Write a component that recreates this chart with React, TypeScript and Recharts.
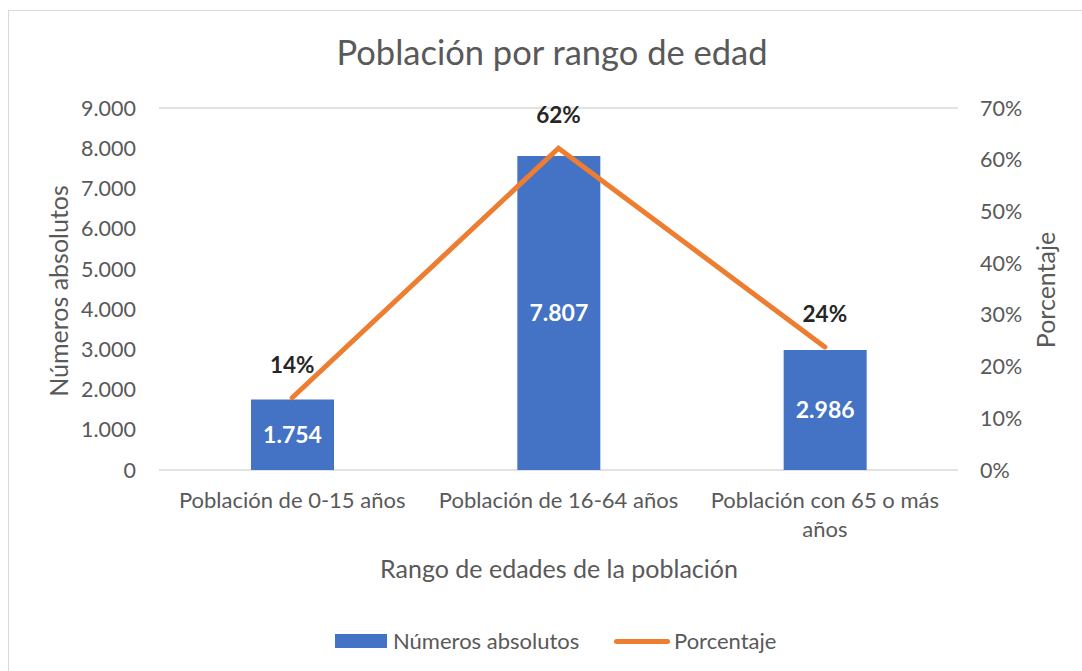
import React from 'react';
import { ComposedChart, Bar, Line, XAxis, YAxis, CartesianGrid, LabelList } from 'recharts';

const categories = ['Población de 0-15 años', 'Población de 16-64 años', 'Población con 65 o más años'];
const absolutos = [1754, 7807, 2986];
const porcentaje = [0.1398, 0.6222, 0.238];
const leftTicks = [0, 1000, 2000, 3000, 4000, 5000, 6000, 7000, 8000, 9000];
const rightTicks = [0, 0.1, 0.2, 0.3, 0.4, 0.5, 0.6, 0.7];

const title = 'Población por rango de edad';
const xTitle = 'Rango de edades de la población';
const leftTitle = 'Números absolutos';
const rightTitle = 'Porcentaje';

const data = categories.map((c, i) => ({ name: c, abs: absolutos[i], pct: porcentaje[i] }));

const FONT = 'Lato, "Open Sans", sans-serif';
const GREY = '#595959';
const BLUE = '#4472C4';
const ORANGE = '#ED7D31';

const fmtThousands = (v: number) => {
  const s = Math.round(v).toString();
  return s.replace(/\B(?=(\d{3})+(?!\d))/g, '.');
};
const fmtPct = (v: number) => `${Math.round(v * 100)}%`;

let ctx: CanvasRenderingContext2D | null = null;
const measure = (s: string, font: string) => {
  if (!ctx) {
    const c = document.createElement('canvas');
    ctx = c.getContext('2d');
  }
  if (!ctx) return s.length * 11;
  ctx.font = font;
  return ctx.measureText(s).width;
};

const wrapWords = (s: string, maxW: number, font: string) => {
  const words = s.split(' ');
  const lines: string[] = [];
  let cur = '';
  for (const w of words) {
    const test = cur ? cur + ' ' + w : w;
    if (cur && measure(test, font) > maxW) {
      lines.push(cur);
      cur = w;
    } else {
      cur = test;
    }
  }
  if (cur) lines.push(cur);
  return lines;
};

const CatTick = (props: any) => {
  const { x, y, payload } = props;
  const lines = wrapWords(String(payload.value), 245, '22px Lato');
  return (
    <text x={x} y={y} textAnchor="middle" fill={GREY} fontSize={22} fontFamily={FONT}>
      {lines.map((l, i) => (
        <tspan key={i} x={x} dy={i === 0 ? 16 : 29}>{l}</tspan>
      ))}
    </text>
  );
};

const PctLabel = (props: any) => {
  const { x, y, value } = props;
  return (
    <text x={x} y={y - 25} textAnchor="middle" fill="#262626" fontSize={22.5} fontWeight="bold" fontFamily={FONT}>
      {fmtPct(value)}
    </text>
  );
};

export default function App() {
  return (
    <div style={{ position: 'absolute', left: 0, top: 0, width: 1082, height: 671, overflow: 'hidden', background: '#fff', fontFamily: FONT }}>
      <div style={{ position: 'absolute', left: 8, top: 10, width: 1100, height: 720, border: '1px solid #D9D9D9', boxSizing: 'border-box' }} />
      <div style={{ position: 'absolute', left: 552, top: 30, transform: 'translateX(-50%)', whiteSpace: 'nowrap', fontSize: 34.5, color: GREY, lineHeight: '44px' }}>
        {title}
      </div>
      <ComposedChart
        width={1082}
        height={671}
        data={data}
        margin={{ top: 108, right: 0, bottom: 81, left: 0 }}
        style={{ position: 'absolute', left: 0, top: 0 }}
      >
        <CartesianGrid vertical={false} stroke="#D9D9D9" strokeWidth={1.5} />
        <XAxis
          dataKey="name"
          xAxisId={0}
          height={120}
          axisLine={false}
          tickLine={false}
          interval={0}
          tick={<CatTick />}
          tickMargin={16}
          label={(p: any) => (
            <text x={559} y={578} textAnchor="middle" fill={GREY} fontSize={25} fontFamily={FONT}>{xTitle}</text>
          )}
        />
        <YAxis
          yAxisId="left"
          orientation="left"
          width={159}
          domain={[0, 9000]}
          ticks={leftTicks}
          tickFormatter={fmtThousands}
          axisLine={false}
          tickLine={false}
          tickMargin={17}
          tick={{ fill: GREY, fontSize: 21.5, fontFamily: FONT }}
          label={(p: any) => (
            <text x={0} y={0} transform="translate(68,291) rotate(-90)" textAnchor="middle" fill={GREY} fontSize={25} fontFamily={FONT}>{leftTitle}</text>
          )}
        />
        <YAxis
          yAxisId="right"
          orientation="right"
          width={124}
          domain={[0, 0.7]}
          ticks={rightTicks}
          tickFormatter={fmtPct}
          axisLine={false}
          tickLine={false}
          tickMargin={16}
          tick={{ fill: GREY, fontSize: 21.5, fontFamily: FONT }}
          label={(p: any) => (
            <text x={0} y={0} transform="translate(1055,290) rotate(-90)" textAnchor="middle" fill={GREY} fontSize={25} fontFamily={FONT}>{rightTitle}</text>
          )}
        />
        <Bar yAxisId="left" dataKey="abs" fill={BLUE} barSize={83} isAnimationActive={false}>
          <LabelList dataKey="abs" position="center" formatter={(v: any) => fmtThousands(Number(v))} fill="#FFFFFF" fontSize={23} fontWeight="bold" fontFamily={FONT} />
        </Bar>
        <Line yAxisId="right" dataKey="pct" type="linear" stroke={ORANGE} strokeWidth={5} dot={false} activeDot={false} isAnimationActive={false} strokeLinecap="round">
          <LabelList dataKey="pct" content={<PctLabel />} />
        </Line>
      </ComposedChart>
      <div style={{ position: 'absolute', left: 335, top: 634, width: 52, height: 14, background: BLUE }} />
      <div style={{ position: 'absolute', left: 393, top: 627, fontSize: 22, color: GREY, lineHeight: '28px', whiteSpace: 'nowrap' }}>{leftTitle}</div>
      <div style={{ position: 'absolute', left: 614, top: 639, width: 56, height: 5, borderRadius: 3, background: ORANGE }} />
      <div style={{ position: 'absolute', left: 674, top: 627, fontSize: 22, color: GREY, lineHeight: '28px', whiteSpace: 'nowrap' }}>{rightTitle}</div>
    </div>
  );
}
